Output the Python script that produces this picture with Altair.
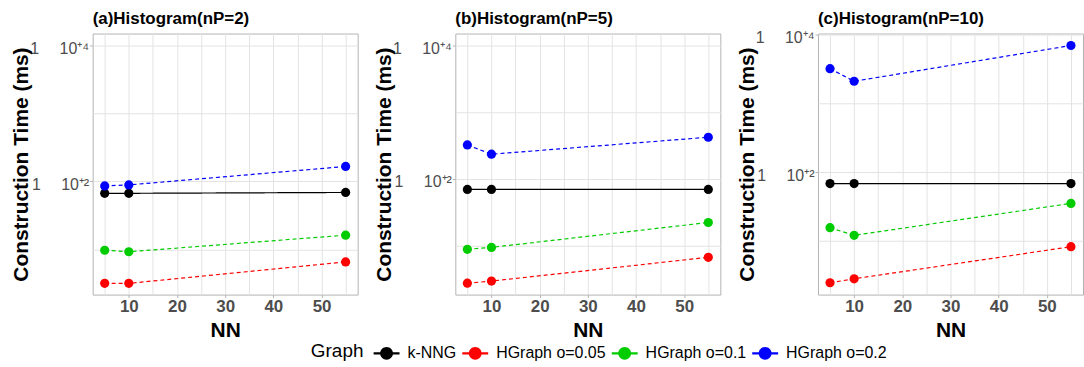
import altair as alt
import pandas as pd

NN = [5, 10, 55]
GRAPHS = ["k-NNG", "HGraph o=0.05", "HGraph o=0.1", "HGraph o=0.2"]
COLORS = ["#000000", "#ff0000", "#00cc00", "#0000ff"]
PANEL_TITLES = ["(a)Histogram(nP=2)", "(b)Histogram(nP=5)", "(c)Histogram(nP=10)"]

# construction time (ms), nP = 2
np2_knng = [67, 67, 69]
np2_o005 = [3.2, 3.2, 6.6]
np2_o01 = [9.8, 9.3, 16.3]
np2_o02 = [86, 89, 166]
# nP = 5
np5_knng = [69, 69, 69]
np5_o005 = [2.7, 2.9, 6.6]
np5_o01 = [8.7, 9.3, 22]
np5_o02 = [321, 233, 419]
# nP = 10
np10_knng = [68, 68, 68]
np10_o005 = [2.45, 2.8, 8.2]
np10_o01 = [15.5, 12, 35]
np10_o02 = [3190, 2090, 6930]

PANEL_SERIES = [
    [np2_knng, np2_o005, np2_o01, np2_o02],
    [np5_knng, np5_o005, np5_o01, np5_o02],
    [np10_knng, np10_o005, np10_o01, np10_o02],
]
Y_DOMAINS = [[2.19, 14800], [1.82, 15100], [1.65, 10340]]
TITLE_DY = [0, 0, 4]

FONT = "Liberation Sans"
SUP_LABELS = ("datum.value == 10000 ? '1\u2003\u00a010\u207a\u2074' : "
              "(datum.value == 100 ? '1\u2003\u00a010\u207a\u00b2' : '')")
LEG_PATH = ("M-1,-0.08 H1 V0.08 H-1 Z "
            "M0.5,0 A0.5,0.5 0 1,1 -0.5,0 A0.5,0.5 0 1,1 0.5,0 Z")

color_scale = alt.Scale(domain=GRAPHS, range=COLORS)
# line scales use the reversed order so their (hidden) legends are not merged with the colour legend
stroke_scale = alt.Scale(domain=GRAPHS[::-1], range=COLORS[::-1])
dash_scale = alt.Scale(domain=GRAPHS[::-1], range=[[4, 3], [4, 3], [4, 3], [1, 0]])


def panel(i):
    rows = []
    for g, vals in zip(GRAPHS, PANEL_SERIES[i]):
        for n, v in zip(NN, vals):
            rows.append({"NN": n, "time": v, "Graph": g})
    df = pd.DataFrame(rows)
    x = alt.X("NN:Q", scale=alt.Scale(domain=[2.5, 57.5], nice=False),
              axis=alt.Axis(title="NN", values=[5, 10, 15, 20, 25, 30, 35, 40, 45, 50, 55],
                            labelExpr="datum.value % 10 == 0 ? datum.label : ''",
                            tickOpacity=alt.condition("datum.value % 10 == 0", alt.value(1), alt.value(0))))
    y = alt.Y("time:Q", scale=alt.Scale(type="log", domain=Y_DOMAINS[i], nice=False),
              axis=alt.Axis(title="Construction Time (ms)", values=[10, 100, 1000, 10000],
                            labelExpr=SUP_LABELS,
                            tickOpacity=alt.condition("datum.value == 100 || datum.value == 10000",
                                                      alt.value(1), alt.value(0))))
    base = alt.Chart(df)
    lines = base.mark_line(strokeWidth=1.2, clip=True).encode(
        x=x, y=y,
        stroke=alt.Stroke("Graph:N", scale=stroke_scale, legend=None),
        strokeDash=alt.StrokeDash("Graph:N", scale=dash_scale, legend=None),
        detail="Graph:N",
    )
    pts = base.mark_point(filled=True, size=85, opacity=1, clip=True).encode(
        x=x, y=y,
        color=alt.Color("Graph:N", scale=color_scale,
                        legend=alt.Legend(title="Graph", orient="none", direction="horizontal",
                                          legendX=219, legendY=308, symbolType=LEG_PATH,
                                          symbolSize=676, symbolStrokeWidth=0,
                                          titleOrient="left")),
    )
    return alt.layer(lines, pts).properties(
        width=266, height=262,
        title=alt.TitleParams(PANEL_TITLES[i], anchor="start", frame="group",
                              fontSize=17, fontWeight="bold", font=FONT, color="#000000",
                              offset=6, dy=TITLE_DY[i]),
    )


chart = alt.hconcat(panel(0), panel(1), panel(2), spacing=14).properties(
    padding={"left": 10, "top": 8, "right": 0, "bottom": 0}
).configure_view(
    stroke="#b3b3b3", strokeWidth=1
).configure_axis(
    labelFont=FONT, titleFont=FONT, gridColor="#e3e3e3", gridWidth=1,
    tickColor="#b3b3b3", tickSize=3, domain=False, titleColor="#000000",
    titleFontWeight="bold", titleFontSize=21,
).configure_axisY(
    labelFontSize=16, labelColor="#4d4d4d", labelPadding=1, minExtent=58, maxExtent=58,
    titlePadding=3, labelOffset=3,
).configure_axisX(
    labelFontSize=17, labelFontWeight="bold", labelColor="#4d4d4d", labelPadding=1,
    titlePadding=5,
).configure_legend(
    titleFont=FONT, labelFont=FONT, titleFontSize=19, titleFontWeight="normal",
    titleColor="#000000", labelFontSize=16, labelColor="#000000",
    titlePadding=10, labelOffset=8, columnPadding=6,
)

chart.save("out.html", embed_options={"renderer": "svg", "actions": False})
